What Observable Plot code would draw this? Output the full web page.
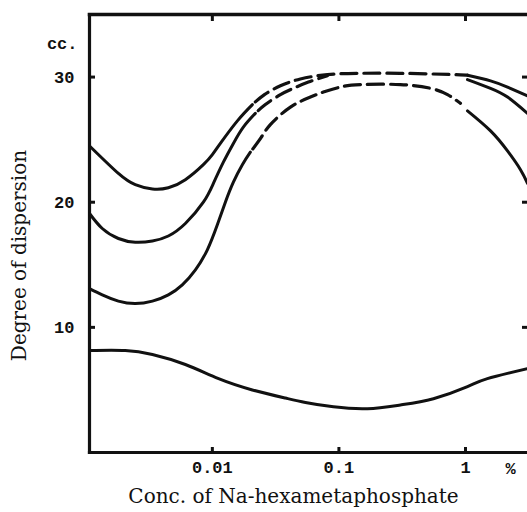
<!DOCTYPE html>
<html>
<head>
<meta charset="utf-8">
<script src="https://cdn.jsdelivr.net/npm/d3@7"></script>
<script src="https://cdn.jsdelivr.net/npm/@observablehq/plot@0.6"></script>
<style>
  html, body { margin: 0; padding: 0; background: #fff; }
</style>
</head>
<body>
<div id="chart"></div>
<script>
// Concentration of Na-hexametaphosphate (%) and degree of dispersion (cc.)
// style per interval: s = solid, d = dashed, - = not drawn (merged into another curve)
const concA = [0.00107, 0.00181, 0.00246, 0.00336, 0.00449, 0.00612, 0.00849, 0.0100, 0.01157, 0.01577, 0.02072, 0.0258, 0.0345, 0.0496, 0.0811, 0.140, 0.306, 0.804, 1.037, 1.578, 2.148, 3.09];
const degA  = [24.5, 22.3, 21.4, 21.05, 21.15, 21.8, 23.0, 23.8, 24.7, 26.5, 27.8, 28.6, 29.3, 29.85, 30.2, 30.3, 30.3, 30.2, 30.15, 29.7, 29.2, 28.5];
const styleA = "ssssssssssddddddddsss";

const concB = [0.00107, 0.00135, 0.00181, 0.00246, 0.00336, 0.00449, 0.00612, 0.00849, 0.01019, 0.01222, 0.01466, 0.01757, 0.02186, 0.02624, 0.0345, 0.0437, 0.0574, 0.0811, 1.037, 1.578, 2.148, 3.09];
const degB  = [19.1, 17.9, 17.1, 16.8, 16.9, 17.3, 18.3, 20.0, 21.5, 23.2, 24.7, 26.0, 27.1, 27.8, 28.6, 29.1, 29.6, 30.1, 29.8, 29.1, 28.4, 27.1];
const styleB = "ssssssssssssddddd-sss";

const concC = [0.00107, 0.00135, 0.00181, 0.00246, 0.00336, 0.00449, 0.00579, 0.00735, 0.00913, 0.01095, 0.01267, 0.01466, 0.01726, 0.01997, 0.0244, 0.02873, 0.04139, 0.05954, 0.07541, 0.1028, 0.1479, 0.306, 0.529, 0.721, 0.912, 1.037, 1.578, 2.148, 2.72, 3.09];
const degC  = [13.1, 12.6, 12.1, 11.9, 12.1, 12.6, 13.4, 14.6, 16.2, 18.2, 20.0, 21.6, 23.0, 24.0, 25.2, 26.2, 27.6, 28.4, 28.8, 29.2, 29.4, 29.4, 29.1, 28.6, 27.9, 27.3, 25.7, 24.1, 22.6, 21.5];
const styleC = "sssssssssssssddddddddddd-ssss";

const concD = [0.00107, 0.00205, 0.00336, 0.00612, 0.0112, 0.0207, 0.0378, 0.0544, 0.0905, 0.168, 0.306, 0.558, 1.037, 1.49, 3.09];
const degD  = [8.15, 8.15, 7.83, 7.03, 5.9, 5.0, 4.35, 4.0, 3.65, 3.5, 3.8, 4.3, 5.26, 5.9, 6.7];
const styleD = "ssssssssssssss";

const xTicks = [0.01, 0.1, 1];
const yTicks = [10, 20, 30];
const xTitle = "Conc. of Na-hexametaphosphate";
const yTitle = "Degree of dispersion";
const yUnit = "cc.";
const xUnit = "%";

function segments(name, conc, deg, style) {
  const rows = [];
  let k = 0, i = 0;
  while (i < style.length) {
    const s = style[i];
    let j = i;
    while (j < style.length && style[j] === s) j++;
    if (s !== "-") {
      for (let p = i; p <= j; p++) rows.push({curve: name, seg: name + k, kind: s, conc: conc[p], deg: deg[p]});
    }
    k++;
    i = j;
  }
  return rows;
}

const rows = [
  ...segments("A", concA, degA, styleA),
  ...segments("B", concB, degB, styleB),
  ...segments("C", concC, degC, styleC),
  ...segments("D", concD, degD, styleD)
];

const mono = "'Liberation Mono', 'DejaVu Sans Mono', monospace";
const serif = "'DejaVu Serif', 'Liberation Serif', serif";

const chart = Plot.plot({
  width: 527,
  height: 512,
  marginLeft: 89,
  marginRight: 0,
  marginTop: 14,
  marginBottom: 60,
  style: {background: "#fff", color: "#111"},
  x: {type: "log", domain: [0.00107, 3.09], axis: null},
  y: {domain: [0, 35], axis: null},
  marks: [
    Plot.frame({anchor: "left", stroke: "#111", strokeWidth: 3.2}),
    Plot.frame({anchor: "bottom", stroke: "#111", strokeWidth: 3.2}),
    Plot.frame({anchor: "top", stroke: "#111", strokeWidth: 3.5}),
    // inward ticks
    Plot.axisY({ticks: yTicks, anchor: "left", label: null, tickSize: -6, strokeWidth: 3, tickFormat: () => ""}),
    Plot.axisY({ticks: yTicks, anchor: "right", label: null, tickSize: -6, strokeWidth: 3, tickFormat: () => ""}),
    Plot.axisX({ticks: xTicks, anchor: "bottom", label: null, tickSize: -5, strokeWidth: 3, tickFormat: () => ""}),
    Plot.axisX({ticks: xTicks, anchor: "top", label: null, tickSize: -6, strokeWidth: 3, tickFormat: () => ""}),
    // tick labels
    Plot.axisY({ticks: yTicks, anchor: "left", label: null, tickSize: 0, tickPadding: 15, tickFormat: d => String(d),
      fontFamily: mono, fontWeight: "bold", fontSize: 17, fill: "#111"}),
    Plot.axisX({ticks: xTicks, anchor: "bottom", label: null, tickSize: 0, tickPadding: 8, tickFormat: d => String(d),
      fontFamily: mono, fontWeight: "bold", fontSize: 17, fill: "#111"}),
    Plot.text([yUnit], {frameAnchor: "top-left", text: d => d, dx: -12, dy: 29, textAnchor: "end", lineAnchor: "middle",
      fontFamily: mono, fontWeight: "bold", fontSize: 17, fill: "#111"}),
    Plot.text([xUnit], {frameAnchor: "bottom-right", text: d => d, dx: -17, dy: 16, textAnchor: "middle", lineAnchor: "middle",
      fontFamily: mono, fontWeight: "bold", fontSize: 17, fill: "#111"}),
    // titles
    Plot.text([xTitle], {frameAnchor: "bottom", text: d => d, dx: -15, dy: 44, textAnchor: "middle", lineAnchor: "middle",
      fontFamily: serif, fontSize: 20, fill: "#111"}),
    Plot.text([yTitle], {frameAnchor: "left", text: d => d, dx: -70, dy: 22, rotate: -90, textAnchor: "middle", lineAnchor: "middle",
      fontFamily: serif, fontSize: 20, fill: "#111"}),
    // curves
    Plot.line(rows.filter(d => d.kind === "s"), {x: "conc", y: "deg", z: "seg", curve: "natural",
      stroke: "#111", strokeWidth: 3}),
    Plot.line(rows.filter(d => d.kind === "d"), {x: "conc", y: "deg", z: "seg", curve: "natural",
      stroke: "#111", strokeWidth: 3.2, strokeDasharray: "16,7", strokeDashoffset: -4})
  ]
});

document.getElementById("chart").appendChild(chart);
</script>
</body>
</html>
